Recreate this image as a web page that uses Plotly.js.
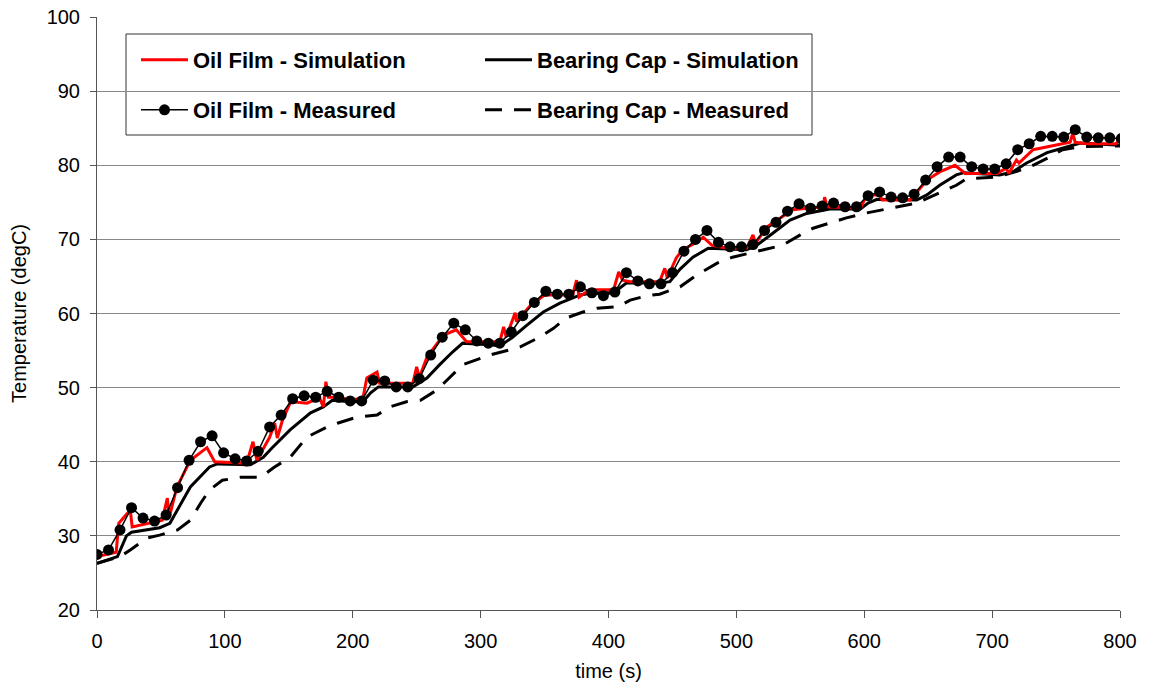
<!DOCTYPE html>
<html>
<head>
<meta charset="utf-8">
<script src="https://cdn.plot.ly/plotly-3.0.1.min.js"></script>
<style>html,body{margin:0;padding:0;background:#fff;}#chart{width:1157px;height:693px;}</style>
</head>
<body>
<div id="chart"></div>
<script>
// ---- Data ----
const ofSimTime = [0,15,17,24,26,27.5,47,51,55,56.5,62.5,73,86,92,117,122,125,135,139,141,145,151,153,164,174,177,179,181,190,198,208,211,219,221,247,250,252,258,271,281,289,315,318,320,327,328,339,350,372,375,377,385,404,408,411,417,440,444,446,453,458,469,474,481,493,508,513,515,524,534,544,555,568,569,571,597,602,612,614,636,641,649,659,671,679,704,711,713,719,721,732,750,761,763,765,774,797,800];
const ofSimTemp = [27.2,27.8,31.7,33.2,33.5,31.2,31.9,32.1,35.1,32.5,36.6,40.2,41.9,40.0,39.8,42.7,40.2,43.3,45.2,43.2,45.6,47.9,48.1,47.9,48.6,47.4,50.8,48.7,48.7,48.3,48.6,51.3,52.1,50.6,50.6,52.8,51.3,54.1,57.1,57.8,56.2,56.2,58.2,56.8,60.1,58.9,61.1,62.5,62.5,64.5,62.2,63.2,63.2,65.6,64.5,64.3,64.3,66.1,64.8,67.5,68.6,69.6,70.3,69.2,68.8,68.8,70.6,69.5,71.7,72.9,74.0,74.2,74.4,75.7,74.4,74.2,76.0,76.0,75.3,75.3,76.3,78.0,79.1,80.0,78.9,78.9,79.6,78.9,80.7,80.3,82.1,82.7,83.1,84.3,83.1,82.9,82.9,83.6];

const bcSimTime = [0,16,23,27,49,57,73,88,94,120,130,137,151,159,167,177,184,198,208,214,220,247,258,268,278,286,307,315,325,336,349,362,378,388,404,414,440,448,456,466,478,508,516,529,542,555,573,597,603,610,641,649,659,672,678,706,716,727,743,759,769,800];
const bcSimTemp = [26.3,27.2,30.0,30.5,31.1,31.7,36.6,39.3,39.7,39.6,40.6,41.9,44.3,45.5,46.6,47.4,48.3,48.1,48.1,49.3,50.1,50.1,51.3,53.1,54.8,56.0,55.8,55.6,56.8,58.4,60.2,61.4,62.5,62.8,62.8,64.1,64.1,64.3,66.0,67.6,68.8,68.6,69.2,70.9,72.6,73.5,74.1,74.1,74.9,75.4,75.3,76.0,77.3,78.7,79.0,78.7,79.1,80.3,81.7,82.5,83.0,82.7];

const ofMeasTime = [0,9,18,27,36,45,54,63,72,81,90,99,108,117,126,135,144,153,162,171,180,189,198,207,216,225,234,243,252,261,270,279,288,297,306,315,324,333,342,351,360,369,378,387,396,405,414,423,432,441,450,459,468,477,486,495,504,513,522,531,540,549,558,567,576,585,594,603,612,621,630,639,648,657,666,675,684,693,702,711,720,729,738,747,756,765,774,783,792,801];
const ofMeasTemp = [27.5,28.1,30.8,33.8,32.4,32.0,32.8,36.5,40.2,42.7,43.5,41.2,40.4,40.1,41.4,44.7,46.3,48.5,48.9,48.7,49.5,48.7,48.2,48.2,51.0,50.9,50.1,50.1,51.2,54.4,56.8,58.7,57.8,56.3,56.0,56.0,57.5,59.7,61.5,63.0,62.6,62.6,63.6,62.8,62.4,62.9,65.5,64.4,64.0,64.0,65.5,68.4,70.0,71.2,69.6,69.0,69.0,69.3,71.2,72.3,73.8,74.8,74.2,74.5,74.9,74.4,74.4,75.9,76.4,75.7,75.6,76.1,78.0,79.8,81.1,81.1,79.8,79.5,79.5,80.2,82.1,82.9,83.9,83.9,83.8,84.8,83.8,83.7,83.7,83.6];

const bcMeasTime = [0,18,26,39,49,63,73,81,88,98,112,128,138,151,164,180,188,203,219,229,242,253,266,276,286,296,307,323,331,346,357,367,380,391,407,417,430,440,456,470,485,497,511,526,536,550,560,573,586,600,615,641,659,672,680,704,718,732,745,755,769,800];
const bcMeasTemp = [26.3,27.2,28.1,29.7,30.1,30.8,32.1,34.4,36.2,37.5,37.9,37.9,39.2,40.6,43.3,44.7,45.2,46.0,46.3,47.4,48.1,48.3,49.7,51.4,53.1,53.7,54.4,55.1,55.5,56.8,58.0,59.4,60.2,60.7,60.9,61.8,62.4,62.6,63.6,65.3,66.8,67.6,68.2,68.8,69.2,70.6,71.5,72.2,72.9,73.5,74.0,74.9,76.3,77.3,78.2,78.4,79.1,80.0,81.1,82.1,82.5,82.6];

const seriesNames = ['Oil Film - Simulation','Bearing Cap - Simulation','Oil Film - Measured','Bearing Cap - Measured'];
const xTicks = [0,100,200,300,400,500,600,700,800];
const yTicks = [20,30,40,50,60,70,80,90,100];

// ---- Chart ----
const FONT = 'Liberation Sans, Arial, Helvetica, sans-serif';
const traces = [
  {x: bcMeasTime, y: bcMeasTemp, name: seriesNames[3], mode:'lines', legend:'legend4',
   line:{color:'#000', width:3, dash:'17px,12px'}},
  {x: bcSimTime, y: bcSimTemp, name: seriesNames[1], mode:'lines', legend:'legend2',
   line:{color:'#000', width:3}},
  {x: ofSimTime, y: ofSimTemp, name: seriesNames[0], mode:'lines', legend:'legend',
   line:{color:'#ff0000', width:3}},
  {x: ofMeasTime, y: ofMeasTemp, name: seriesNames[2], mode:'lines+markers', legend:'legend3',
   line:{color:'#000', width:1.5}, marker:{color:'#000', size:11}}
];

function px2x(p){ return (p-97)/1023; }
function py2y(p){ return (610-p)/593; }
const legFont = {family: FONT, size: 22, color:'#000', weight: 'bold'};
function leg(xpx, ypx){
  return {x: px2x(xpx), y: py2y(ypx), xanchor:'left', yanchor:'middle', xref:'paper', yref:'paper',
    orientation:'v', bgcolor:'rgba(0,0,0,0)', borderwidth:0, font: legFont, itemwidth: 47};
}

const layout = {
  width:1157, height:693,
  margin:{l:97, r:37, t:17, b:83},
  paper_bgcolor:'#fff', plot_bgcolor:'#fff',
  font:{family: FONT, size:20, color:'#000'},
  showlegend:true,
  xaxis:{range:[0,800], tickmode:'array', tickvals:xTicks, ticktext:xTicks.map(String),
    showgrid:false, zeroline:false, showline:true, linecolor:'#555', linewidth:1,
    ticks:'outside', ticklen:7, tickcolor:'#555', tickfont:{family:FONT, size:20, color:'#000'},
    ticklabelstandoff:6,
    title:{text:'time (s)', font:{family:FONT, size:20, color:'#000'}, standoff:12}},
  yaxis:{range:[20,100], tickmode:'array', tickvals:yTicks, ticktext:yTicks.map(String),
    showgrid:true, gridcolor:'#888', gridwidth:1, zeroline:false, showline:true, linecolor:'#555', linewidth:1,
    ticks:'outside', ticklen:6, tickcolor:'#555', tickfont:{family:FONT, size:20, color:'#000'},
    ticklabelstandoff:6,
    title:{text:'Temperature (degC)', font:{family:FONT, size:20, color:'#000'}, standoff:14}},
  legend: leg(136, 60),
  legend2: leg(480, 60),
  legend3: leg(136, 110),
  legend4: leg(480, 110),
  shapes:[{type:'rect', xref:'paper', yref:'paper', x0:px2x(126), x1:px2x(812), y0:py2y(135), y1:py2y(34),
    line:{color:'#333', width:1}, fillcolor:'#fff', layer:'below'}]
};

Plotly.newPlot('chart', traces, layout, {displayModeBar:false, staticPlot:true});
</script>
</body>
</html>
